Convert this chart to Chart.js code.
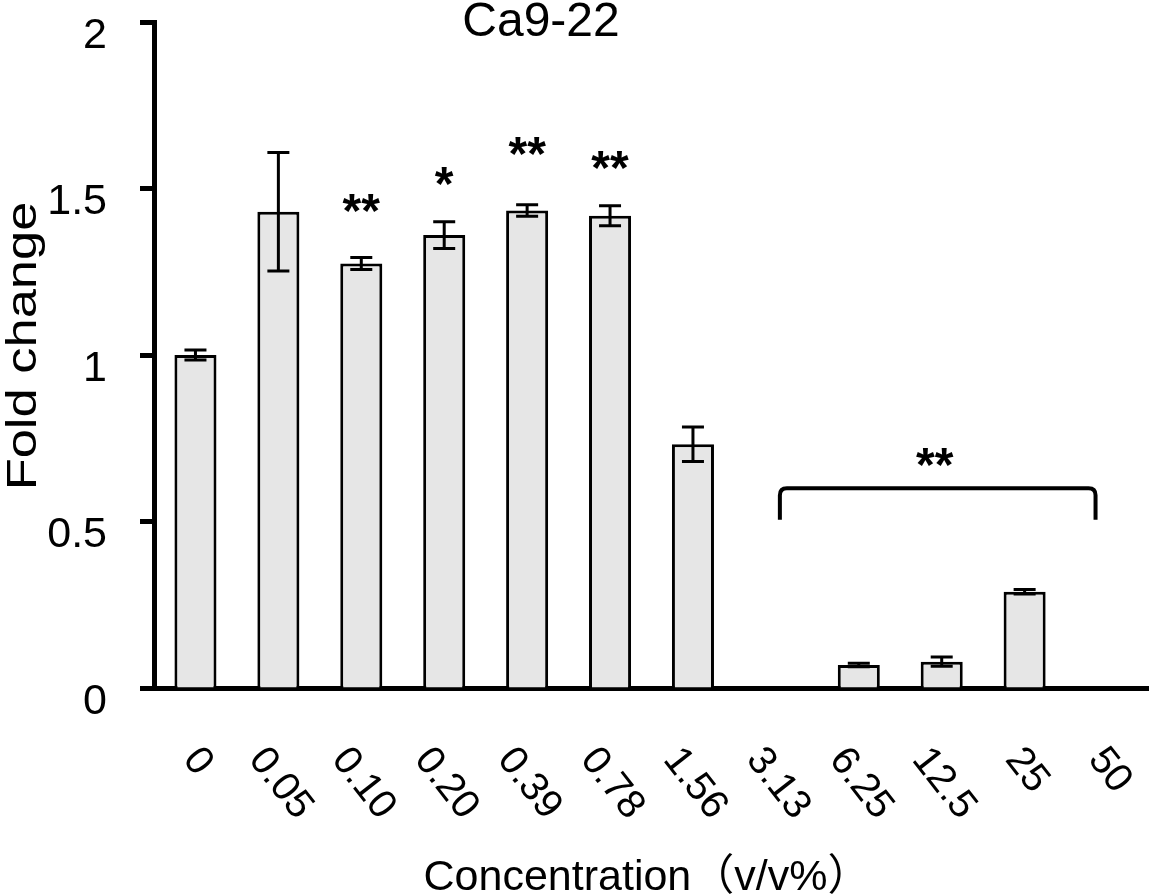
<!DOCTYPE html>
<html>
<head>
<meta charset="utf-8">
<script src="https://cdn.jsdelivr.net/npm/chart.js@4.4.1/dist/chart.umd.min.js"></script>
<style>
  body { margin: 0; background: #fff; }
</style>
</head>
<body>
<canvas id="chart" width="1149" height="894"></canvas>
<script>
// data
const concentrations = ['0', '0.05', '0.10', '0.20', '0.39', '0.78', '1.56', '3.13', '6.25', '12.5', '25', '50'];
const foldChange = [1.00, 1.43, 1.275, 1.36, 1.434, 1.418, 0.732, 0, 0.069, 0.079, 0.289, 0];
const errors = [0.015, 0.178, 0.018, 0.04, 0.017, 0.03, 0.052, 0, 0.005, 0.014, 0.007, 0];
const stars = ['', '', '**', '*', '**', '**', '', '', '', '', '', ''];
const starLevels = [0, 0, 1.452, 1.536, 1.626, 1.584, 0, 0, 0, 0, 0, 0];
const yTicks = [0, 0.5, 1, 1.5, 2];
const yTickLabels = ['0', '0.5', '1', '1.5', '2'];

// bracket over the high concentrations
const groupFrom = '3.13';
const groupTo = '50';
const groupLevel = 0.6;
const groupEndLevel = 0.505;
const groupStars = '**';
const groupStarLevel = 0.69;

const chartTitle = 'Ca9-22';
const xTitle = 'Concentration（v/v%）';
const yTitle = 'Fold change';

const FONT = '"Liberation Sans", Arial, "Noto Sans CJK JP", sans-serif';

const extras = {
    id: 'extras',
    afterDatasetsDraw(chart) {
        const ctx = chart.ctx;
        const y = chart.scales.y;
        const bars = chart.getDatasetMeta(0).data;

        // error bars
        ctx.save();
        ctx.strokeStyle = '#000';
        ctx.lineWidth = 3;
        bars.forEach((bar, i) => {
            if (!errors[i]) return;
            const top = y.getPixelForValue(foldChange[i] + errors[i]);
            const bot = y.getPixelForValue(foldChange[i] - errors[i]);
            ctx.beginPath();
            ctx.moveTo(bar.x, top);
            ctx.lineTo(bar.x, bot);
            ctx.moveTo(bar.x - 11, top);
            ctx.lineTo(bar.x + 11, top);
            ctx.moveTo(bar.x - 11, bot);
            ctx.lineTo(bar.x + 11, bot);
            ctx.stroke();
        });
        ctx.restore();
    },
    afterDraw(chart) {
        const ctx = chart.ctx;
        const x = chart.scales.x;
        const y = chart.scales.y;
        const area = chart.chartArea;

        ctx.save();
        ctx.fillStyle = '#000';

        // stars
        ctx.font = 'bold 48px ' + FONT;
        ctx.textAlign = 'center';
        ctx.textBaseline = 'alphabetic';
        stars.forEach((s, i) => {
            if (!s) return;
            ctx.fillText(s, x.getPixelForValue(i), y.getPixelForValue(starLevels[i]) + 23);
        });

        // bracket
        const x1 = x.getPixelForValue(concentrations.indexOf(groupFrom)) + 4;
        const x2 = x.getPixelForValue(concentrations.indexOf(groupTo)) - 12;
        const yt = y.getPixelForValue(groupLevel);
        const yb = y.getPixelForValue(groupEndLevel);
        const r = 7;
        ctx.strokeStyle = '#000';
        ctx.lineWidth = 4;
        ctx.beginPath();
        ctx.moveTo(x1, yb);
        ctx.lineTo(x1, yt + r);
        ctx.quadraticCurveTo(x1, yt, x1 + r, yt);
        ctx.lineTo(x2 - r, yt);
        ctx.quadraticCurveTo(x2, yt, x2, yt + r);
        ctx.lineTo(x2, yb);
        ctx.stroke();
        ctx.fillText(groupStars, (x1 + x2) / 2 - 3, y.getPixelForValue(groupStarLevel) + 23);

        // rotated category labels
        const ang = 52 * Math.PI / 180;
        ctx.font = '40px ' + FONT;
        ctx.textBaseline = 'middle';
        concentrations.forEach((c, i) => {
            const w = ctx.measureText(c).width;
            const h = 29;
            const boxH = w * Math.sin(ang) + h * Math.cos(ang);
            ctx.save();
            ctx.translate(x.getPixelForValue(i) + 2, area.bottom + 56 + boxH / 2);
            ctx.rotate(ang);
            ctx.fillText(c, 0, 0);
            ctx.restore();
        });

        // titles
        ctx.textBaseline = 'alphabetic';
        ctx.font = '48px ' + FONT;
        ctx.fillText(chartTitle, 541, 36);

        ctx.font = '43px ' + FONT;
        ctx.fillText(xTitle, 647, 890);

        ctx.save();
        ctx.translate(36, 346);
        ctx.rotate(-Math.PI / 2);
        ctx.scale(1.22, 1);
        ctx.fillText(yTitle, 0, 0);
        ctx.restore();

        ctx.restore();
    }
};

new Chart(document.getElementById('chart'), {
    type: 'bar',
    data: {
        labels: concentrations,
        datasets: [{
            data: foldChange,
            backgroundColor: '#e6e6e6',
            borderColor: '#000',
            borderWidth: 3,
            barPercentage: 0.507,
            categoryPercentage: 1
        }]
    },
    options: {
        responsive: false,
        animation: false,
        layout: { padding: { top: 22, left: 0, right: 0, bottom: 0 } },
        plugins: {
            legend: { display: false },
            tooltip: { enabled: false }
        },
        scales: {
            x: {
                grid: { display: false },
                border: { display: true, color: '#000', width: 5 },
                ticks: { display: false },
                afterFit: s => {
                    s.height = 206;
                    s.paddingLeft = 0;
                    s.paddingRight = 0;
                }
            },
            y: {
                min: 0,
                max: 2,
                afterBuildTicks: s => {
                    s.ticks = yTicks.map(v => ({ value: v }));
                },
                grid: {
                    drawOnChartArea: false,
                    tickLength: 14,
                    tickWidth: 5,
                    tickColor: '#000'
                },
                border: { display: true, color: '#000', width: 5 },
                ticks: {
                    color: '#000',
                    padding: 33,
                    labelOffset: 14,
                    font: { size: 43, family: FONT },
                    callback: (v) => yTickLabels[yTicks.indexOf(v)]
                },
                afterFit: s => {
                    s.width = 154;
                    s.paddingTop = 0;
                    s.paddingBottom = 0;
                }
            }
        }
    },
    plugins: [extras]
});
</script>
</body>
</html>
